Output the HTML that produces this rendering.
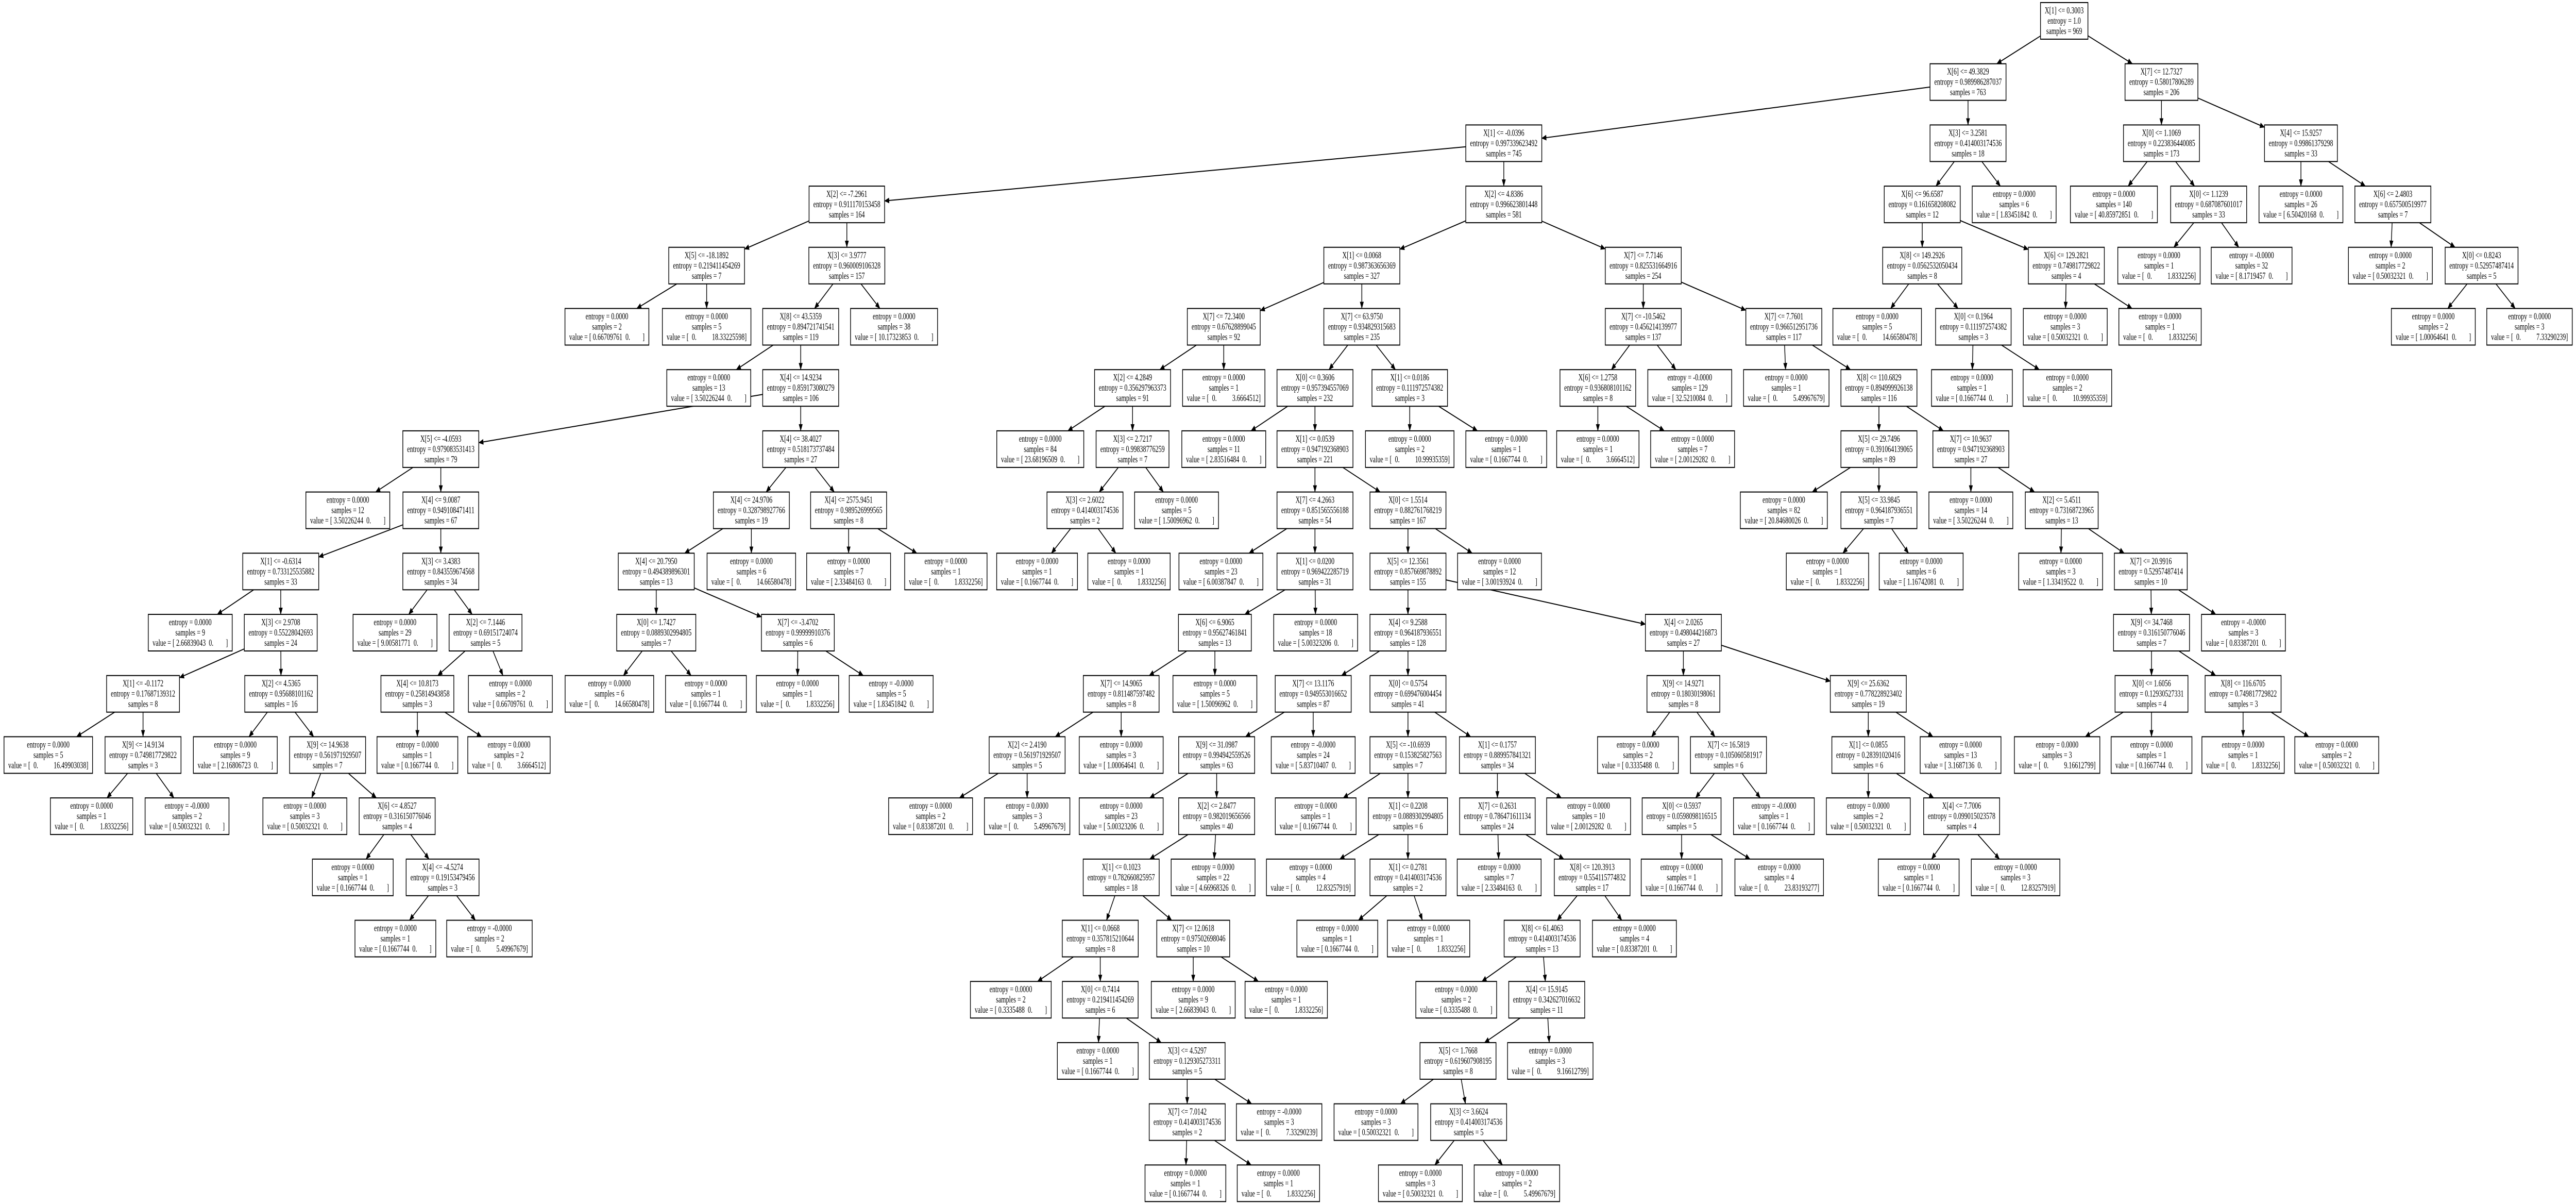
<!DOCTYPE html>
<html><head><meta charset="utf-8">
<style>
html,body{margin:0;padding:0;background:#fff;width:100%;height:100%;overflow:hidden;}
svg{display:block;position:absolute;left:0;top:0;width:100vw;height:100vh;}
text{font-family:"Liberation Serif","Times New Roman",serif;font-size:17.5px;white-space:pre;fill:#000;}
</style></head>
<body>
<svg id="g" xmlns="http://www.w3.org/2000/svg" viewBox="0 0 7258 2336" preserveAspectRatio="none">
<defs><marker id="ah" markerWidth="14" markerHeight="11" refX="13" refY="5.5" orient="auto" markerUnits="userSpaceOnUse"><path d="M0,0 L14,5.5 L0,11 Z" fill="#000"/></marker></defs>
<rect width="7258" height="2336" fill="#fff"/>
<g id="edges"></g><g id="nodes"></g>
</svg>
<script>
var D=[
[-1,0,5816,"X[1] <= 0.3003|1.0|969"],
[0,1,5545,"X[6] <= 49.3829|0.989986287037|763"],
[0,1,6090,"X[7] <= 12.7327|0.58017806289|206"],
[1,2,4237,"X[1] <= -0.0396|0.997339623492|745"],
[1,2,5545,"X[3] <= 3.2581|0.414003174536|18"],
[2,2,6090,"X[0] <= 1.1069|0.223836440085|173"],
[2,2,6483,"X[4] <= 15.9257|0.99861379298|33"],
[3,3,2386,"X[2] <= -7.2961|0.911170153458|164"],
[3,3,4237,"X[2] <= 4.8386|0.996623801448|581"],
[4,3,5416,"X[6] <= 96.6587|0.161658208082|12"],
[4,3,5675,"L|0.0000|6|1.83451842|0"],
[5,3,5956,"L|0.0000|140|40.85972851|0"],
[5,3,6223,"X[0] <= 1.1239|0.687087601017|33"],
[6,3,6483,"L|0.0000|26|6.50420168|0"],
[6,3,6742,"X[6] <= 2.4803|0.657500519977|7"],
[7,4,1991,"X[5] <= -18.1892|0.219411454269|7"],
[7,4,2386,"X[3] <= 3.9777|0.960009106328|157"],
[8,4,3837,"X[1] <= 0.0068|0.987363656369|327"],
[8,4,4630,"X[7] <= 7.7146|0.825531664916|254"],
[9,4,5416,"X[8] <= 149.2926|0.0562532050434|8"],
[9,4,5822,"X[6] <= 129.2821|0.749817729822|4"],
[12,4,6083,"L|0.0000|1|0|1.8332256"],
[12,4,6344,"L|-0.0000|32|8.1719457|0"],
[14,4,6735,"L|0.0000|2|0.50032321|0"],
[14,4,6992,"X[0] <= 0.8243|0.52957487414|5"],
[15,5,1710,"L|0.0000|2|0.66709761|0"],
[15,5,1991,"L|0.0000|5|0|18.33225598"],
[16,5,2256,"X[8] <= 43.5359|0.894721741541|119"],
[16,5,2519,"L|0.0000|38|10.17323853|0"],
[17,5,3448,"X[7] <= 72.3400|0.67628899045|92"],
[17,5,3837,"X[7] <= 63.9750|0.934829315683|235"],
[18,5,4630,"X[7] <= -10.5462|0.456214139977|137"],
[18,5,5026,"X[7] <= 7.7601|0.966512951736|117"],
[19,5,5289,"L|0.0000|5|0|14.66580478"],
[19,5,5560,"X[0] <= 0.1964|0.111972574382|3"],
[20,5,5819,"L|0.0000|3|0.50032321|0"],
[20,5,6086,"L|0.0000|1|0|1.8332256"],
[24,5,6856,"L|0.0000|2|1.00064641|0"],
[24,5,7127,"L|0.0000|3|0|7.33290239"],
[27,6,1997,"L|0.0000|13|3.50226244|0"],
[27,6,2256,"X[4] <= 14.9234|0.859173080279|106"],
[29,6,3191,"X[2] <= 4.2849|0.356297963373|91"],
[29,6,3448,"L|0.0000|1|0|3.6664512"],
[30,6,3705,"X[0] <= 0.3606|0.957394557069|232"],
[30,6,3972,"X[1] <= 0.0186|0.111972574382|3"],
[31,6,4502,"X[6] <= 1.2758|0.936808101162|8"],
[31,6,4761,"L|-0.0000|129|32.5210084|0"],
[32,6,5033,"L|0.0000|1|0|5.49967679"],
[32,6,5294,"X[8] <= 110.6829|0.894999926138|116"],
[34,6,5556,"L|0.0000|1|0.1667744|0"],
[34,6,5825,"L|0.0000|2|0|10.99935359"],
[40,7,1242,"X[5] <= -4.0593|0.979083531413|79"],
[40,7,2256,"X[4] <= 38.4027|0.518173737484|27"],
[41,7,2931,"L|0.0000|84|23.68196509|0"],
[41,7,3191,"X[3] <= 2.7217|0.99838776259|7"],
[43,7,3448,"L|0.0000|11|2.83516484|0"],
[43,7,3705,"X[1] <= 0.0539|0.947192368903|221"],
[44,7,3972,"L|0.0000|2|0|10.99935359"],
[44,7,4244,"L|0.0000|1|0.1667744|0"],
[45,7,4502,"L|0.0000|1|0|3.6664512"],
[45,7,4769,"L|0.0000|7|2.00129282|0"],
[48,7,5294,"X[5] <= 29.7496|0.391064139065|89"],
[48,7,5553,"X[7] <= 10.9637|0.947192368903|27"],
[51,8,980,"L|0.0000|12|3.50226244|0"],
[51,8,1242,"X[4] <= 9.0087|0.949108471411|67"],
[52,8,2117,"X[4] <= 24.9706|0.328798927766|19"],
[52,8,2391,"X[4] <= 2575.9451|0.989526999565|8"],
[54,8,3057,"X[3] <= 2.6022|0.414003174536|2"],
[54,8,3315,"L|0.0000|5|1.50096962|0"],
[56,8,3705,"X[7] <= 4.2663|0.851565556188|54"],
[56,8,3967,"X[0] <= 1.5514|0.882761768219|167"],
[61,8,5026,"L|0.0000|82|20.84680026|0"],
[61,8,5294,"X[5] <= 33.9845|0.964187936551|7"],
[62,8,5553,"L|0.0000|14|3.50226244|0"],
[62,8,5809,"X[2] <= 5.4511|0.73168723965|13"],
[64,9,791,"X[1] <= -0.6314|0.733125535882|33"],
[64,9,1242,"X[3] <= 3.4383|0.843559674568|34"],
[65,9,1849,"X[4] <= 20.7950|0.494389896301|13"],
[65,9,2117,"L|0.0000|6|0|14.66580478"],
[66,9,2391,"L|0.0000|7|2.33484163|0"],
[66,9,2665,"L|0.0000|1|0|1.8332256"],
[67,9,2922,"L|0.0000|1|0.1667744|0"],
[67,9,3181,"L|0.0000|1|0|1.8332256"],
[69,9,3440,"L|0.0000|23|6.00387847|0"],
[69,9,3705,"X[1] <= 0.0200|0.969422285719|31"],
[70,9,3967,"X[5] <= 12.3561|0.857669878892|155"],
[70,9,4225,"L|0.0000|12|3.00193924|0"],
[72,9,5149,"L|0.0000|1|0|1.8332256"],
[72,9,5413,"L|0.0000|6|1.16742081|0"],
[74,9,5806,"L|0.0000|3|1.33419522|0"],
[74,9,6060,"X[7] <= 20.9916|0.52957487414|10"],
[75,10,536,"L|0.0000|9|2.66839043|0"],
[75,10,791,"X[3] <= 2.9708|0.55228042693|24"],
[76,10,1113,"L|0.0000|29|9.00581771|0"],
[76,10,1368,"X[2] <= 7.1446|0.69151724074|5"],
[77,10,1849,"X[0] <= 1.7427|0.0889302994805|7"],
[77,10,2248,"X[7] <= -3.4702|0.99999910376|6"],
[84,10,3423,"X[6] <= 6.9065|0.95627461841|13"],
[84,10,3707,"L|0.0000|18|5.00323206|0"],
[85,10,3967,"X[4] <= 9.2588|0.964187936551|128"],
[85,10,4743,"X[4] <= 2.0265|0.498044216873|27"],
[90,10,6062,"X[9] <= 34.7468|0.316150776046|7"],
[90,10,6321,"L|-0.0000|3|0.83387201|0"],
[92,11,403,"X[1] <= -0.1172|0.17687139312|8"],
[92,11,792,"X[2] <= 4.5365|0.95688101162|16"],
[94,11,1176,"X[4] <= 10.8173|0.25814943858|3"],
[94,11,1438,"L|0.0000|2|0.66709761|0"],
[95,11,1717,"L|0.0000|6|0|14.66580478"],
[95,11,1989,"L|0.0000|1|0.1667744|0"],
[96,11,2247,"L|0.0000|1|0|1.8332256"],
[96,11,2511,"L|-0.0000|5|1.83451842|0"],
[97,11,3159,"X[7] <= 14.9065|0.811487597482|8"],
[97,11,3423,"L|0.0000|5|1.50096962|0"],
[99,11,3700,"X[7] <= 13.1176|0.949553016652|87"],
[99,11,3967,"X[0] <= 0.5754|0.699476004454|41"],
[100,11,4743,"X[9] <= 14.9271|0.18030198061|8"],
[100,11,5264,"X[9] <= 25.6362|0.778228923402|19"],
[101,11,6062,"X[0] <= 1.6056|0.12930527331|4"],
[101,11,6320,"X[8] <= 116.6705|0.749817729822|3"],
[103,12,136,"L|0.0000|5|0|16.49903038"],
[103,12,403,"X[9] <= 14.9134|0.749817729822|3"],
[104,12,663,"L|0.0000|9|2.16806723|0"],
[104,12,923,"X[9] <= 14.9638|0.561971929507|7"],
[105,12,1176,"L|0.0000|1|0.1667744|0"],
[105,12,1434,"L|0.0000|2|0|3.6664512"],
[111,12,2894,"X[2] <= 2.4190|0.561971929507|5"],
[111,12,3159,"L|0.0000|3|1.00064641|0"],
[113,12,3428,"X[9] <= 31.0987|0.994942559526|63"],
[113,12,3700,"L|-0.0000|24|5.83710407|0"],
[114,12,3967,"X[5] <= -10.6939|0.153825827563|7"],
[114,12,4219,"X[1] <= 0.1757|0.889957841321|34"],
[115,12,4615,"L|0.0000|2|0.3335488|0"],
[115,12,4870,"X[7] <= 16.5819|0.105060581917|6"],
[116,12,5264,"X[1] <= 0.0855|0.28391020416|6"],
[116,12,5524,"L|0.0000|13|3.1687136|0"],
[117,12,5796,"L|0.0000|3|0|9.16612799"],
[117,12,6062,"L|0.0000|1|0.1667744|0"],
[118,12,6320,"L|0.0000|1|0|1.8332256"],
[118,12,6584,"L|0.0000|2|0.50032321|0"],
[120,13,258,"L|0.0000|1|0|1.8332256"],
[120,13,527,"L|-0.0000|2|0.50032321|0"],
[122,13,859,"L|0.0000|3|0.50032321|0"],
[122,13,1119,"X[6] <= 4.8527|0.316150776046|4"],
[125,13,2622,"L|0.0000|2|0.83387201|0"],
[125,13,2894,"L|0.0000|3|0|5.49967679"],
[127,13,3159,"L|0.0000|23|5.00323206|0"],
[127,13,3428,"X[2] <= 2.8477|0.982019656566|40"],
[129,13,3707,"L|0.0000|1|0.1667744|0"],
[129,13,3967,"X[1] <= 0.2208|0.0889302994805|6"],
[130,13,4219,"X[7] <= 0.2631|0.786471611134|24"],
[130,13,4476,"L|0.0000|10|2.00129282|0"],
[132,13,4738,"X[0] <= 0.5937|0.0598098116515|5"],
[132,13,4998,"L|-0.0000|1|0.1667744|0"],
[133,13,5264,"L|0.0000|2|0.50032321|0"],
[133,13,5527,"X[4] <= 7.7006|0.099015023578|4"],
[142,14,994,"L|0.0000|1|0.1667744|0"],
[142,14,1247,"X[4] <= -4.5274|0.19153479456|3"],
[146,14,3159,"X[1] <= 0.1023|0.782660825957|18"],
[146,14,3418,"L|0.0000|22|4.66968326|0"],
[148,14,3693,"L|0.0000|4|0|12.83257919"],
[148,14,3967,"X[1] <= 0.2781|0.414003174536|2"],
[149,14,4224,"L|0.0000|7|2.33484163|0"],
[149,14,4486,"X[8] <= 120.3913|0.554115774832|17"],
[151,14,4738,"L|0.0000|1|0.1667744|0"],
[151,14,5013,"L|0.0000|4|0|23.83193277"],
[154,14,5406,"L|0.0000|1|0.1667744|0"],
[154,14,5679,"L|0.0000|3|0|12.83257919"],
[156,15,1114,"L|0.0000|1|0.1667744|0"],
[156,15,1379,"L|-0.0000|2|0|5.49967679"],
[157,15,3100,"X[1] <= 0.0668|0.357815210644|8"],
[157,15,3362,"X[7] <= 12.0618|0.97502698046|10"],
[160,15,3768,"L|0.0000|1|0.1667744|0"],
[160,15,4025,"L|0.0000|1|0|1.8332256"],
[162,15,4345,"X[8] <= 61.4063|0.414003174536|13"],
[162,15,4605,"L|0.0000|4|0.83387201|0"],
[169,16,2848,"L|0.0000|2|0.3335488|0"],
[169,16,3100,"X[0] <= 0.7414|0.219411454269|6"],
[170,16,3362,"L|0.0000|9|2.66839043|0"],
[170,16,3624,"L|0.0000|1|0|1.8332256"],
[173,16,4103,"L|0.0000|2|0.3335488|0"],
[173,16,4358,"X[4] <= 15.9145|0.342627016632|11"],
[176,17,3093,"L|0.0000|1|0.1667744|0"],
[176,17,3345,"X[3] <= 4.5297|0.129305273311|5"],
[180,17,4108,"X[5] <= 1.7668|0.619607908195|8"],
[180,17,4368,"L|0.0000|3|0|9.16612799"],
[182,18,3345,"X[7] <= 7.0142|0.414003174536|2"],
[182,18,3604,"L|-0.0000|3|0|7.33290239"],
[183,18,3877,"L|0.0000|3|0.50032321|0"],
[183,18,4138,"X[3] <= 3.6624|0.414003174536|5"],
[185,19,3340,"L|0.0000|1|0.1667744|0"],
[185,19,3602,"L|0.0000|1|0|1.8332256"],
[188,19,4002,"L|0.0000|3|0.50032321|0"],
[188,19,4274,"L|0.0000|2|0|5.49967679"]
];
var NS="http://www.w3.org/2000/svg";
var G=document.getElementById("nodes"),E=document.getElementById("edges");
var H=71,info=[];
function rowTop(r){return 5+118.7*r;}
function el(t,a,p){var e=document.createElementNS(NS,t);for(var k in a)e.setAttribute(k,a[k]);p.appendChild(e);return e;}
D.forEach(function(d,i){
  var p=d[3].split("|"),lines;
  if(p[0]=="L"){
    var v=(p[3]!="0")?("value = [ "+p[3]+"  0.        ]"):("value = [  0.          "+p[4]+"]");
    lines=["entropy = "+p[1],"samples = "+p[2],v];
  } else lines=[p[0],"entropy = "+p[1],"samples = "+p[2]];
  var top=rowTop(d[1]),cx=d[2];
  var g=el("g",{},G);
  var r=el("rect",{x:cx-110,y:top,width:220,height:H,fill:"#fff",stroke:"#000","stroke-width":"2"},g);
  var mw=0;
  lines.forEach(function(s,j){var t=el("text",{x:cx,y:top+21+20*j,"text-anchor":"middle"},g);t.textContent=s;try{mw=Math.max(mw,t.getComputedTextLength());}catch(e){mw=200;}});
  var w=Math.min(262,Math.max(120,mw+24));
  var x0=Math.max(1,Math.min(7257-w,cx-w/2));
  r.setAttribute("x",x0);r.setAttribute("width",w);
  info[i]={cx:x0+w/2,cy:top+H/2,w:w};
});
function clip(n,dx,dy){var hw=n.w/2,hh=H/2;var s=Math.min(dx?hw/Math.abs(dx):1e9,dy?hh/Math.abs(dy):1e9);return [n.cx+dx*s,n.cy+dy*s];}
D.forEach(function(d,i){
  if(d[0]<0)return;var a=info[d[0]],b=info[i];
  var dx=b.cx-a.cx,dy=b.cy-a.cy;
  var s=clip(a,dx,dy),t=clip(b,-dx,-dy);
  el("line",{x1:s[0],y1:s[1],x2:t[0],y2:t[1],stroke:"#000","stroke-width":"2","marker-end":"url(#ah)"},E);
});
</script>
</body></html>
